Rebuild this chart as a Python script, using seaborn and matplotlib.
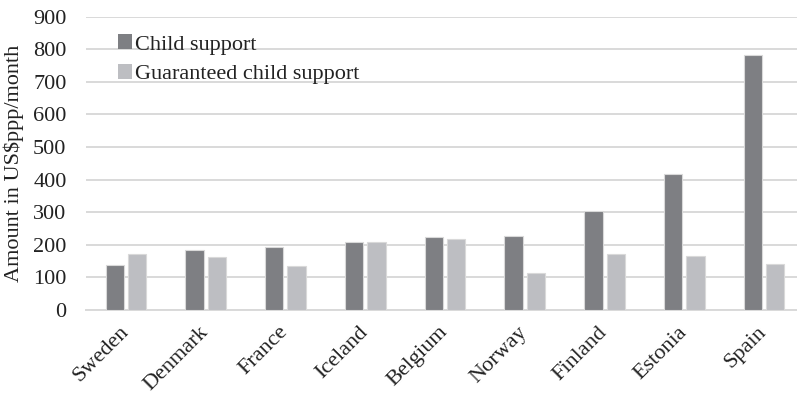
import matplotlib
matplotlib.use("Agg")
import matplotlib.pyplot as plt
import matplotlib.transforms as mtransforms
from matplotlib.patches import Patch
import seaborn as sns
import pandas as pd

countries = ["Sweden", "Denmark", "France", "Iceland", "Belgium",
             "Norway", "Finland", "Estonia", "Spain"]
child_support = [138, 185, 194, 209, 223, 226, 304, 416, 784]
guaranteed_support = [171, 163, 135, 208, 218, 114, 171, 166, 141]
series_names = ["Child support", "Guaranteed child support"]
y_ticks = [0, 100, 200, 300, 400, 500, 600, 700, 800, 900]
y_label = "Amount in US$ppp/month"

colors = ["#7e7f83", "#bdbec2"]

df = pd.DataFrame({
    "country": countries * 2,
    "value": child_support + guaranteed_support,
    "series": [series_names[0]] * len(countries) + [series_names[1]] * len(countries),
})

sns.set_theme(style="white")
plt.rcParams["font.family"] = ["Liberation Serif", "DejaVu Serif"]

fig = plt.figure(figsize=(7.97, 3.96), dpi=100)
ax = fig.add_axes([86 / 797, 86 / 396, 718 / 797, 293.3 / 396])

sns.barplot(data=df, x="country", y="value", hue="series", order=countries,
            hue_order=series_names, palette=colors, width=0.56, gap=0.18,
            edgecolor="#d9d9d9", linewidth=0.8, saturation=1, ax=ax, zorder=3)

ax.set_ylim(0, 900)
ax.set_yticks(y_ticks)
ax.set_xlim(-0.5, len(countries) - 0.5)
ax.yaxis.grid(True, color="#d9d9d9", linewidth=1.4, zorder=0)
ax.set_axisbelow(True)
for side in ["top", "right", "left"]:
    ax.spines[side].set_visible(False)
ax.spines["bottom"].set_color("#d9d9d9")
ax.spines["bottom"].set_linewidth(1.4)
ax.tick_params(axis="both", length=0, labelsize=16, colors="#222222")
ax.tick_params(axis="y", pad=14)
ax.set_xlabel("")
ax.set_ylabel(y_label, fontsize=16, color="#222222")
ax.yaxis.set_label_coords(-0.087, 0.5)

offset = mtransforms.ScaledTranslation(6 / 100, 1 / 100, fig.dpi_scale_trans)
for lab in ax.get_xticklabels():
    lab.set_rotation(45)
    lab.set_ha("right")
    lab.set_va("center")
    lab.set_rotation_mode("anchor")
    lab.set_transform(lab.get_transform() + offset)
ax.tick_params(axis="x", pad=14)

leg = ax.get_legend()
if leg is not None:
    leg.remove()
handles = [Patch(facecolor=c, edgecolor="none") for c in colors]
ax.legend(handles, series_names, loc="upper left", bbox_to_anchor=(0.044, 0.94),
          frameon=False, fontsize=16, handlelength=0.65, handleheight=0.65,
          handletextpad=0.15, labelspacing=0.42, borderpad=0, borderaxespad=0,
          labelcolor="#222222")

fig.savefig("out.png", dpi=100)
